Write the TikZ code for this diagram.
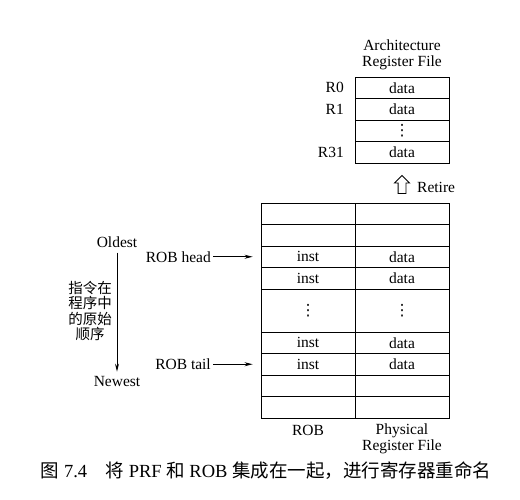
\documentclass[tikz,border=0pt]{standalone}
\usepackage{fontspec}
\setmainfont{Liberation Serif}
\newfontfamily\cjk{Noto Sans CJK SC}
\newfontfamily\symb{DejaVu Sans}
\usepackage{tikz}
\usetikzlibrary{positioning}
\usetikzlibrary{shapes.arrows}
\usetikzlibrary{arrows.meta}

\begin{document}
\begin{tikzpicture}[x=1pt, y=-1pt, every node/.style={font=\fontsize{15.5}{16}\selectfont, inner sep=0pt},
    cell/.style={draw, line width=0.9pt, minimum width=94pt, minimum height=21.5pt},
    tallcell/.style={cell, minimum height=43pt},
    ptr/.style={-{Stealth[length=8pt, width=4pt]}, line width=0.9pt}]
              \useasboundingbox (0,0) rectangle (520,500);
              % Architecture Register File
              \node[align=center] (arftitle) at (402,55) {Architecture\\Register File};
              \node[cell] (a0) at (402,87.75) {data};
              \node[cell] (a1) at (402,109.25) {data};
              \node[cell] (a2) at (402,130.75) {\symb ⋮};
              \node[cell] (a31) at (402,152.25) {data};
              \node[anchor=east] (r0) at (344,87.75) {R0};
              \node[anchor=east] (r1) at (344,109.25) {R1};
              \node[anchor=east] (r31) at (344,152.25) {R31};

              % Retire
              \node[single arrow, draw, line width=0.9pt, fill=white, shape border rotate=90, inner sep=3.5pt, minimum height=18pt, single arrow head extend=3.5pt, single arrow head indent=0pt] (retire) at (402,186.5) {};
              \node[anchor=west] (retiretxt) at (417,187) {Retire};

              % ROB und Physical Register File
              \node[cell] (rob1) at (308,213.75) {};
              \node[cell] (rob2) at (308,235.25) {};
              \node[cell] (rob3) at (308,256.75) {inst};
              \node[cell] (rob4) at (308,278.25) {inst};
              \node[tallcell] (rob5) at (308,310.5) {\symb ⋮};
              \node[cell] (rob6) at (308,342.75) {inst};
              \node[cell] (rob7) at (308,364.25) {inst};
              \node[cell] (rob8) at (308,385.75) {};
              \node[cell] (rob9) at (308,407.25) {};
              \node[cell] (prf1) at (402,213.75) {};
              \node[cell] (prf2) at (402,235.25) {};
              \node[cell] (prf3) at (402,256.75) {data};
              \node[cell] (prf4) at (402,278.25) {data};
              \node[tallcell] (prf5) at (402,310.5) {\symb ⋮};
              \node[cell] (prf6) at (402,342.75) {data};
              \node[cell] (prf7) at (402,364.25) {data};
              \node[cell] (prf8) at (402,385.75) {};
              \node[cell] (prf9) at (402,407.25) {};
              \node (rob) at (308,430) {ROB};
              \node[align=center] (prf) at (402,438.5) {Physical\\Register File};

              % Zeiger
              \node[anchor=east] (robhead) at (211,256.75) {ROB head};
              \node[anchor=east] (robtail) at (211,364.25) {ROB tail};
              \draw[ptr, shorten <=2pt, shorten >=8pt] (robhead) -- (rob3);
              \draw[ptr, shorten <=2pt, shorten >=8pt] (robtail) -- (rob7);

              % Reihenfolge
              \node (oldest) at (117,242) {Oldest};
              \node (newest) at (117,382) {Newest};
              \draw[ptr, shorten <=5pt, shorten >=5pt] (oldest) -- (newest);
              \node[align=center, font=\cjk\fontsize{14.5}{15.5}\selectfont] (order) at (90,311) {指令在\\程序中\\的原始\\顺序};

              \node[font=\fontsize{18.5}{18.5}\selectfont] (caption) at (266,471) {{\cjk 图}\ 7.4\quad {\cjk 将} PRF {\cjk 和} ROB {\cjk 集成在一起，进行寄存器重命名}};
            \end{tikzpicture}
\end{document}
